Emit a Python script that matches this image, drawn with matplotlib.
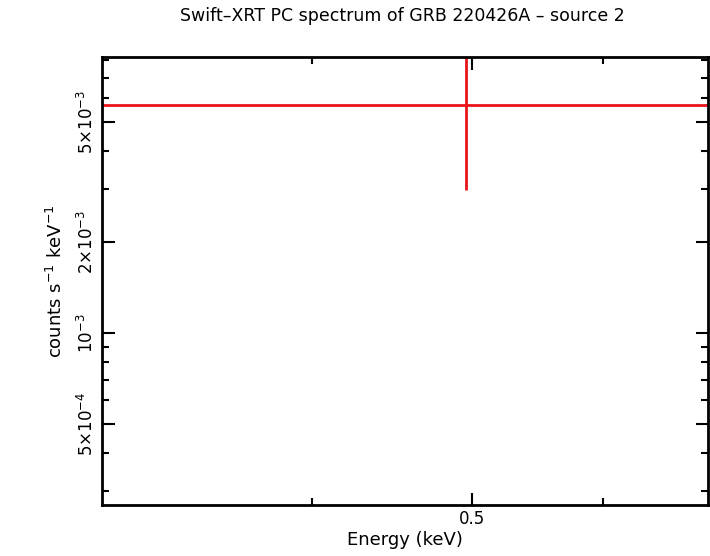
import matplotlib
matplotlib.use("Agg")
import matplotlib.pyplot as plt
from matplotlib.ticker import FixedLocator, NullFormatter

energy = [0.496]
energy_lo = [0.29]
energy_hi = [0.72]
rate = [5.69e-3]
rate_err = [2.71e-3]

fig = plt.figure(figsize=(7.10, 5.56), dpi=100)
ax = fig.add_axes([102/710, 1-505/556, 606/710, 448/556])
xerr = [[energy[0]-energy_lo[0]], [energy_hi[0]-energy[0]]]
ax.errorbar(energy, rate, xerr=xerr, yerr=[rate_err, rate_err], fmt='none', ecolor='#e8141a', elinewidth=2, capsize=0)
ax.set_xscale('log'); ax.set_yscale('log')
ax.set_xlim(0.2985, 0.695)
ax.set_ylim(2.69e-4, 8.2e-3)
ax.xaxis.set_major_locator(FixedLocator([0.5]))
ax.xaxis.set_minor_locator(FixedLocator([0.4, 0.6]))
ax.set_xticklabels(['0.5'])
ax.xaxis.set_minor_formatter(NullFormatter())
ax.yaxis.set_major_locator(FixedLocator([5e-4, 1e-3, 2e-3, 5e-3]))
ax.set_yticklabels(['5×10$^{-4}$', '10$^{-3}$', '2×10$^{-3}$', '5×10$^{-3}$'], rotation=90, va='center')
ax.yaxis.set_minor_locator(FixedLocator([3e-4,4e-4,6e-4,7e-4,8e-4,9e-4,3e-3,4e-3,6e-3,7e-3,8e-3]))
ax.yaxis.set_minor_formatter(NullFormatter())
ax.tick_params(which='both', direction='in', top=True, right=True, labelsize=12, width=1.5)
ax.tick_params(which='major', length=9)
ax.tick_params(which='minor', length=5)
for s in ax.spines.values():
    s.set_linewidth(2)
ax.set_xlabel('Energy (keV)', fontsize=13, labelpad=2)
ax.set_ylabel('counts s$^{-1}$ keV$^{-1}$', fontsize=13, labelpad=8)
fig.text(0.567, 0.962, 'Swift–XRT PC spectrum of GRB 220426A – source 2', ha='center', fontsize=12.5)
fig.savefig('out.png', dpi=100)
